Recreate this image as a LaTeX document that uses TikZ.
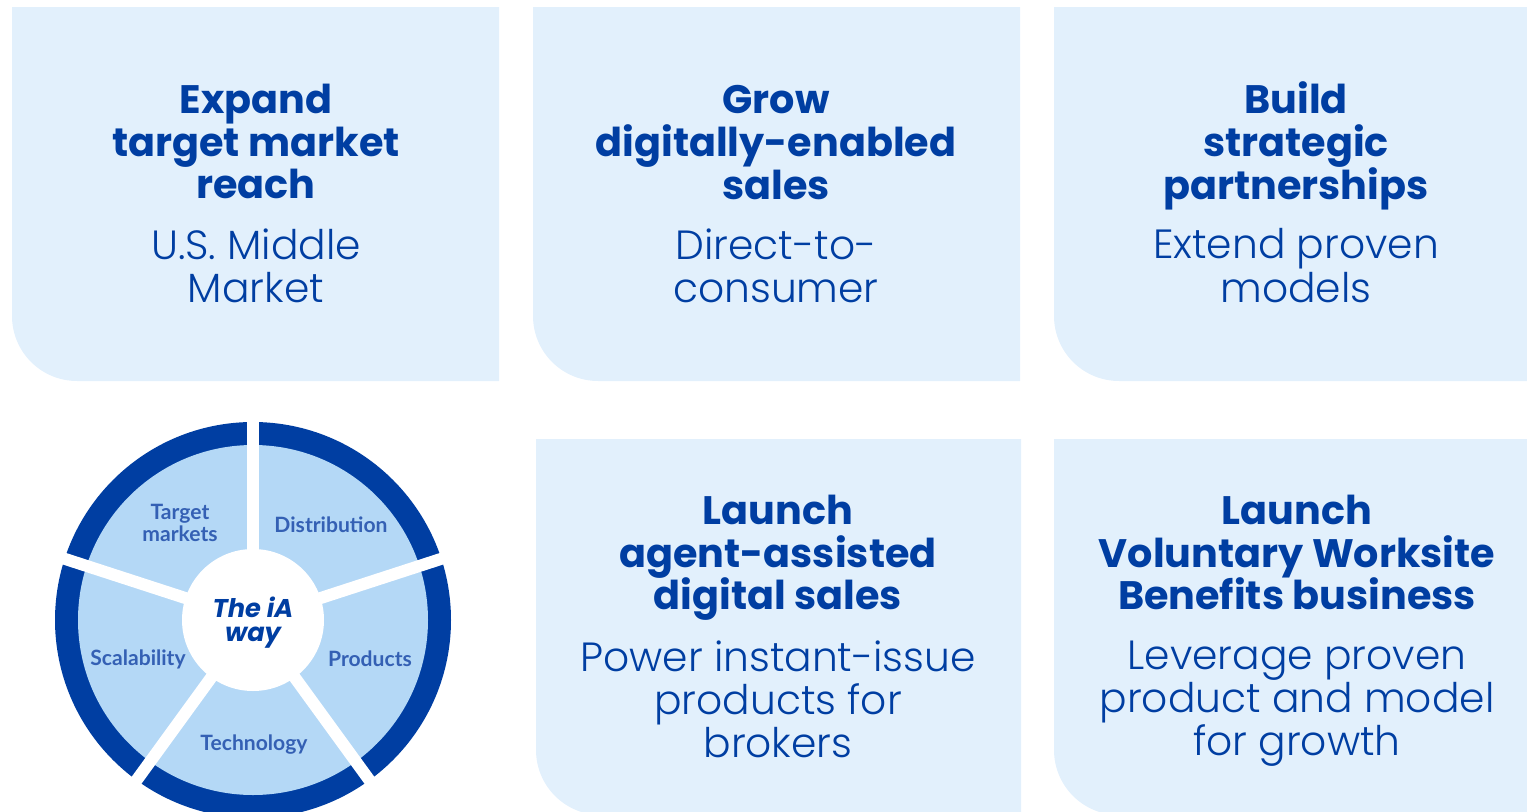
\documentclass[tikz,border=0pt]{standalone}
\usepackage{fontspec}
\setmainfont{Poppins}
\newfontfamily\lightfont{Poppins}[UprightFont=* Light]
\newfontfamily\labelfont{Lato}
\definecolor{iadark}{RGB}{0,62,162}
\definecolor{iatile}{RGB}{226,240,252}
\definecolor{iasector}{RGB}{180,216,246}
\definecolor{ialabel}{RGB}{52,96,180}

\begin{document}
\begin{tikzpicture}[x=0.01cm,y=0.01cm,
    tile/.style={fill=iatile},
    tile_title/.style={anchor=north,inner sep=0pt,text=iadark,align=center,font=\bfseries\fontsize{11.3}{12.2}\selectfont},
    tile_text/.style={anchor=north,inner sep=0pt,text=iadark,align=center,font=\lightfont\fontsize{11.6}{12.3}\selectfont},
    sector_label/.style={text=ialabel,align=center,font=\labelfont\bfseries\fontsize{6}{6.3}\selectfont},
    gap/.style={draw=white,line width=0.12cm}]

    \clip (0,0) rectangle (1527,811);

    % tiles
    \fill[tile] (12,804) -- (499,804) -- (499,430) -- (77,430) arc[start angle=270,end angle=180,radius=65] -- cycle;
    \fill[tile] (533,804) -- (1020,804) -- (1020,430) -- (598,430) arc[start angle=270,end angle=180,radius=65] -- cycle;
    \fill[tile] (1054,804) -- (1540,804) -- (1540,430) -- (1119,430) arc[start angle=270,end angle=180,radius=65] -- cycle;
    \fill[tile] (536,372) -- (1021,372) -- (1021,-4) -- (601,-4) arc[start angle=270,end angle=180,radius=65] -- cycle;
    \fill[tile] (1054,372) -- (1540,372) -- (1540,-4) -- (1119,-4) arc[start angle=270,end angle=180,radius=65] -- cycle;

    \node[tile_title] (t1) at (256,728) {Expand\\target market\\reach};
    \node[tile_text] (s1) at (256,583) {U.S. Middle\\Market};
    \node[tile_title] (t2) at (776,726) {Grow\\digitally-enabled\\sales};
    \node[tile_text] (s2) at (776,583) {Direct-to-\\consumer};
    \node[tile_title] (t3) at (1296,730) {Build\\strategic\\partnerships};
    \node[tile_text] (s3) at (1296,583) {Extend proven\\models};
    \node[tile_title] (t4) at (778,317) {Launch\\agent-assisted\\digital sales};
    \node[tile_text] (s4) at (778,171) {Power instant-issue\\products for\\brokers};
    \node[tile_title] (t5) at (1297,317) {Launch\\Voluntary Worksite\\Benefits business};
    \node[tile_text] (s5) at (1297,171) {Leverage proven\\product and model\\for growth};

    % wheel
    \coordinate (hub) at (253,191);
    \fill[iadark] (hub) circle[radius=198];
    \fill[iasector] (hub) circle[radius=175];
    \draw[gap] (hub) -- ++(90:215);
    \draw[gap] (hub) -- ++(18:215);
    \draw[gap] (hub) -- ++(-54:215);
    \draw[gap] (hub) -- ++(-126:215);
    \draw[gap] (hub) -- ++(162:215);
    \fill[white] (hub) circle[radius=71];

    \node[text=iadark,align=center,font=\bfseries\itshape\fontsize{7.3}{6.8}\selectfont] (way) at (253,188) {The iA\\way};
    \node[sector_label] (markets) at (180,288) {Target\\markets};
    \node[sector_label] (distribution) at (331,286) {Distribution};
    \node[sector_label] (products) at (370,152) {Products};
    \node[sector_label] (technology) at (254,66) {Technology};
    \node[sector_label] (scalability) at (138,152) {Scalability};
\end{tikzpicture}
\end{document}
